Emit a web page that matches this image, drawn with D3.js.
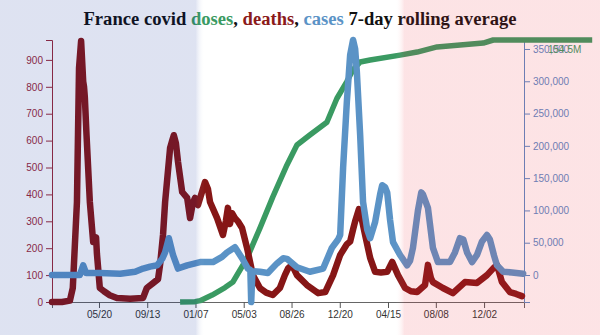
<!DOCTYPE html>
<html>
<head>
<meta charset="utf-8">
<script src="https://cdn.jsdelivr.net/npm/d3@7"></script>
<style>
body { margin: 0; background: #fff; }
svg { display: block; }
.axis text { font-family: Arial, "Liberation Sans", sans-serif; font-size: 10px; }
</style>
</head>
<body>
<div id="chart"></div>
<script>
var deathDates = ["2020-01-28","2020-02-21","2020-03-11","2020-03-18","2020-03-28","2020-04-02","2020-04-07","2020-04-12","2020-04-14","2020-04-16","2020-04-20","2020-04-28","2020-05-06","2020-05-13","2020-05-15","2020-05-22","2020-06-01","2020-06-15","2020-07-02","2020-08-03","2020-09-03","2020-09-12","2020-09-27","2020-10-09","2020-10-14","2020-10-21","2020-10-26","2020-11-07","2020-11-12","2020-11-16","2020-11-21","2020-11-26","2020-12-06","2020-12-18","2020-12-25","2021-01-01","2021-01-06","2021-01-13","2021-01-30","2021-02-06","2021-02-11","2021-02-28","2021-03-14","2021-03-21","2021-03-26","2021-03-31","2021-04-05","2021-04-12","2021-04-19","2021-04-29","2021-05-11","2021-05-25","2021-06-11","2021-06-26","2021-07-12","2021-07-29","2021-08-10","2021-08-18","2021-08-27","2021-09-08","2021-10-02","2021-10-29","2021-11-15","2021-12-04","2021-12-21","2022-01-06","2022-01-14","2022-01-21","2022-01-26","2022-02-04","2022-02-12","2022-02-19","2022-03-03","2022-03-15","2022-03-29","2022-04-13","2022-04-25","2022-05-09","2022-05-26","2022-06-09","2022-06-24","2022-07-13","2022-07-20","2022-07-27","2022-08-01","2022-08-25","2022-09-18","2022-10-17","2022-11-15","2022-12-09","2022-12-24","2023-01-02","2023-01-14","2023-02-02","2023-02-17","2023-03-03"];
var deathValues = [0,0,5,52,372,870,970,820,800,760,621,372,223,240,180,52,40,25,15,12,15,52,70,85,140,250,372,573,600,620,590,521,409,387,312,370,387,360,446,420,372,312,249,300,350,290,330,312,300,275,201,100,52,35,26,52,100,126,138,100,63,33,37,100,175,215,225,270,300,345,300,249,164,112,110,112,149,100,52,40,37,63,138,90,74,52,33,74,71,100,125,138,74,37,30,22];

var caseDates = ["2020-01-28","2020-04-04","2020-04-12","2020-04-19","2020-05-22","2020-07-10","2020-08-15","2020-09-03","2020-09-20","2020-10-07","2020-10-19","2020-10-26","2020-11-04","2020-11-14","2020-11-26","2020-12-18","2021-01-18","2021-02-18","2021-03-12","2021-03-24","2021-04-12","2021-04-29","2021-05-13","2021-05-19","2021-05-21","2021-05-24","2021-06-11","2021-06-30","2021-07-22","2021-08-06","2021-08-15","2021-09-08","2021-10-09","2021-11-10","2021-12-01","2021-12-16","2021-12-21","2021-12-28","2022-01-06","2022-01-14","2022-01-21","2022-01-26","2022-01-30","2022-02-07","2022-02-14","2022-02-24","2022-03-03","2022-03-15","2022-03-27","2022-04-01","2022-04-08","2022-04-13","2022-04-20","2022-04-27","2022-05-14","2022-05-31","2022-06-07","2022-06-14","2022-06-26","2022-07-04","2022-07-08","2022-07-20","2022-08-01","2022-08-13","2022-09-11","2022-09-23","2022-10-05","2022-10-13","2022-10-22","2022-11-03","2022-11-15","2022-11-27","2022-12-09","2022-12-16","2022-12-26","2023-01-02","2023-01-17","2023-02-07","2023-03-06"];
var caseValues = [0,0,15000,3000,3000,2000,5000,10000,13000,15000,25000,35000,57000,31000,10000,15000,20000,20000,28000,35000,43000,26000,10000,8000,-41800,6000,5000,3000,18000,26000,25000,12000,5000,10000,42000,55000,62000,166000,268000,341000,363900,350000,315000,217000,113000,70000,57000,82000,125000,139000,136000,128000,85000,51000,31000,15000,22000,42000,100000,128000,125000,104000,42000,20000,20000,35000,57000,55000,35000,20000,31000,52000,62000,55000,30000,15000,5000,4000,2000];

var doseDates = ["2020-12-01","2021-01-06","2021-01-18","2021-02-16","2021-03-19","2021-04-07","2021-05-11","2021-06-11","2021-07-12","2021-08-15","2021-09-08","2021-10-09","2021-11-19","2021-12-13","2022-01-06","2022-01-21","2022-02-07","2022-03-03","2022-05-14","2022-06-24","2022-08-11","2022-11-30","2022-12-24","2023-08-19"];
var doseValues = [0,0.2e6,0.8e6,4.1e6,8.5e6,11.8e6,25.9e6,43.6e6,62e6,80.8e6,92.6e6,98.5e6,106e6,120e6,130e6,137e6,141.5e6,142.7e6,145.6e6,147.4e6,150.4e6,152.7e6,154.5e6,154.5e6];

var tickDates = ["2020-05-20","2020-09-13","2021-01-07","2021-05-03","2021-08-26","2021-12-20","2022-04-15","2022-08-08","2022-12-02"];

var W = 600, H = 335,
    margin = {top: 40, right: 76, bottom: 33, left: 52},
    width = W - margin.left - margin.right,
    height = H - margin.top - margin.bottom;

var parse = d3.timeParse("%Y-%m-%d");
var deaths = deathDates.map(function(d, i) { return {date: parse(d), value: deathValues[i]}; });
var cases = caseDates.map(function(d, i) { return {date: parse(d), value: caseValues[i]}; });
var doses = doseDates.map(function(d, i) { return {date: parse(d), value: doseValues[i]}; });

var deathColor = "#861616", caseColor = "#5b93c6", doseColor = "#3a9a62";

var svg = d3.select("#chart").append("svg")
    .attr("width", W)
    .attr("height", H);

var g = svg.append("g")
    .attr("transform", "translate(" + margin.left + "," + margin.top + ")");

var x = d3.scaleTime()
    .domain([parse("2020-01-28"), parse("2023-03-08")])
    .range([0, width]);

var yDeaths = d3.scaleLinear()
    .domain([0, d3.max(deathValues) + 4])
    .range([height, 0]);

var yCases = d3.scaleLinear()
    .domain(d3.extent(caseValues))
    .range([height, 0]);

var yDoses = d3.scaleLinear()
    .domain([0, d3.max(doseValues)])
    .range([height, 0]);

// axes
var xAxis = g.append("g")
    .attr("class", "axis")
    .attr("transform", "translate(0," + height + ")")
    .call(d3.axisBottom(x)
      .tickValues(tickDates.map(parse))
      .tickFormat(d3.timeFormat("%m/%d")));
xAxis.select(".domain").attr("stroke", "#666");
xAxis.selectAll(".tick line").attr("stroke", "#555");
xAxis.selectAll("text").attr("fill", "#333");

var yAxisL = g.append("g")
    .attr("class", "axis")
    .call(d3.axisLeft(yDeaths));
yAxisL.select(".domain").attr("stroke", "#9b2a3a");
yAxisL.selectAll(".tick line").attr("stroke", "#9b2a3a");
yAxisL.selectAll("text").attr("fill", "#9b2a3a");

var yAxisR = g.append("g")
    .attr("class", "axis")
    .attr("transform", "translate(" + width + ",0)")
    .call(d3.axisRight(yCases).tickFormat(d3.format(",")));
yAxisR.select(".domain").attr("stroke", "#5a8ac6");
yAxisR.selectAll(".tick line").attr("stroke", "#5a8ac6");
yAxisR.selectAll("text").attr("fill", "#5a8ac6");

// lines
var line = function(yScale) {
  return d3.line()
    .x(function(d) { return x(d.date); })
    .y(function(d) { return yScale(d.value); });
};

g.append("path")
    .datum(doses)
    .attr("fill", "none")
    .attr("stroke", doseColor)
    .attr("stroke-width", 5.5)
    .attr("stroke-linejoin", "round")
    .attr("d", line(yDoses));

g.append("path")
    .datum(deaths)
    .attr("fill", "none")
    .attr("stroke", deathColor)
    .attr("stroke-width", 6.5)
    .attr("stroke-linejoin", "round")
    .attr("stroke-linecap", "round")
    .attr("d", line(yDeaths));

g.append("path")
    .datum(cases)
    .attr("fill", "none")
    .attr("stroke", caseColor)
    .attr("stroke-width", 6.5)
    .attr("stroke-linejoin", "round")
    .attr("stroke-linecap", "round")
    .attr("d", line(yCases));

g.append("text")
    .attr("x", width + 24)
    .attr("y", yDoses(d3.max(doseValues)) + 13)
    .attr("fill", doseColor)
    .style("font-family", "Arial, 'Liberation Sans', sans-serif")
    .style("font-size", "10px")
    .text(d3.format(".1f")(d3.max(doseValues) / 1e6) + "M");

// title
var title = svg.append("text")
    .attr("x", W / 2)
    .attr("y", 25)
    .attr("text-anchor", "middle")
    .style("font-family", "'Liberation Serif', 'Times New Roman', serif")
    .style("font-weight", "bold")
    .style("font-size", "18.6px")
    .attr("fill", "#111");
title.append("tspan").text("France covid ");
title.append("tspan").attr("fill", "#3a9a62").text("doses");
title.append("tspan").text(", ");
title.append("tspan").attr("fill", "#8b1a1a").text("deaths");
title.append("tspan").text(", ");
title.append("tspan").attr("fill", "#5b93c6").text("cases");
title.append("tspan").text(" 7-day rolling average");

// tricolour tint over everything
var grad = svg.append("defs").append("linearGradient")
    .attr("id", "flag")
    .attr("x1", "0").attr("x2", "1").attr("y1", "0").attr("y2", "0");
[[0, "#002395", 0.13], [0.326, "#002395", 0.13], [0.341, "#ffffff", 0],
 [0.659, "#ffffff", 0], [0.674, "#ED2939", 0.13], [1, "#ED2939", 0.13]].forEach(function(s) {
  grad.append("stop")
    .attr("offset", s[0])
    .attr("stop-color", s[1])
    .attr("stop-opacity", s[2]);
});
svg.append("rect")
    .attr("width", W)
    .attr("height", H)
    .attr("fill", "url(#flag)")
    .style("pointer-events", "none");
</script>
</body>
</html>
